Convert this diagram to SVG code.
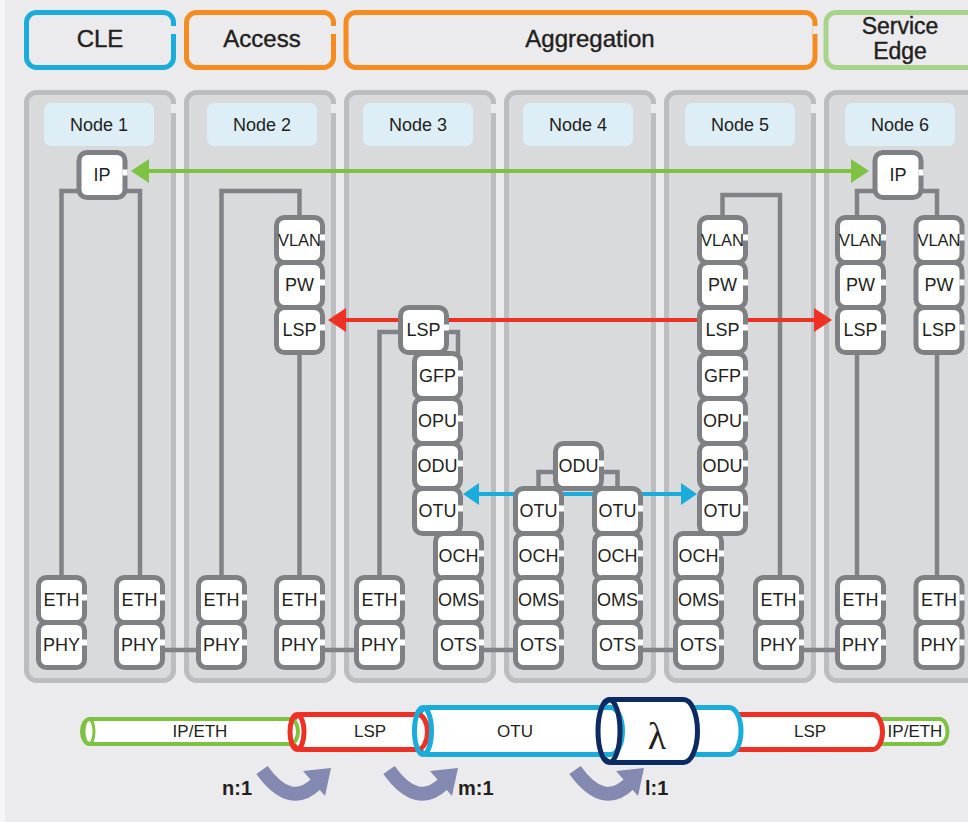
<svg xmlns="http://www.w3.org/2000/svg" xmlns:xlink="http://www.w3.org/1999/xlink" width="968" height="822" viewBox="0 0 968 822">
<style>
.hdr{fill:#ebebed;stroke-width:5}
.htx{font-family:"Liberation Sans",Arial,sans-serif;font-size:24px;fill:#231f20;text-anchor:middle;stroke:#231f20;stroke-width:0.4}
.col{fill:#d9dadc;stroke:#bcbdbf;stroke-width:5}
.nl{fill:#ddeef7}
.ntx{font-family:"Liberation Sans",Arial,sans-serif;font-size:18px;fill:#231f20;text-anchor:middle}
.ln{fill:none;stroke:#808285;stroke-width:4.5}
.bx{fill:#fff;stroke:#7f8083;stroke-width:5}
.ltx{font-family:"Liberation Sans",Arial,sans-serif;font-size:18px;fill:#231f20;text-anchor:middle}
.vl{font-size:16.5px}
.ptx{font-family:"Liberation Sans",Arial,sans-serif;font-size:17px;fill:#231f20;text-anchor:middle}
.rtx{font-family:"Liberation Sans",Arial,sans-serif;font-size:20px;font-weight:bold;fill:#231f20}
.cv{fill:none;stroke:#8389b0;stroke-width:14}
.cvh{fill:#8389b0}
.pw{fill:#fff}
</style>
<defs>
<g id="box"><rect class="bx" x="0" y="0" width="46" height="45" rx="8"/><rect x="43.5" y="17" width="5" height="6" fill="#fff"/></g>
<marker id="ag" markerUnits="userSpaceOnUse" markerWidth="18" markerHeight="24" viewBox="0 0 18 24" refX="0" refY="12" orient="auto-start-reverse"><path d="M0,0L18,12L0,24z" fill="#7dc242"/></marker>
<marker id="ar" markerUnits="userSpaceOnUse" markerWidth="18" markerHeight="24" viewBox="0 0 18 24" refX="0" refY="12" orient="auto-start-reverse"><path d="M0,0L18,12L0,24z" fill="#ee3124"/></marker>
<marker id="ab" markerUnits="userSpaceOnUse" markerWidth="16" markerHeight="22" viewBox="0 0 16 22" refX="0" refY="11" orient="auto-start-reverse"><path d="M0,0L16,11L0,22z" fill="#1aaddb"/></marker>
</defs>
<rect x="0" y="0" width="968" height="822" fill="#f6f6f7"/>
<rect x="5" y="0" width="963" height="822" fill="#ebebed"/>

<g id="headers">
<rect class="hdr" x="26.5" y="12.5" width="147" height="55" rx="10" stroke="#1aaddb"/>
<rect x="171" y="26" width="6" height="8" fill="#ebebed"/>
<text class="htx" x="100" y="47">CLE</text>
<rect class="hdr" x="186.5" y="12.5" width="147" height="55" rx="10" stroke="#f68b1f"/>
<rect x="331" y="26" width="6" height="8" fill="#ebebed"/>
<text class="htx" x="262" y="47">Access</text>
<rect class="hdr" x="346" y="12.5" width="469" height="55" rx="10" stroke="#f68b1f"/>
<rect x="812.5" y="26" width="6" height="8" fill="#ebebed"/>
<text class="htx" x="590" y="47">Aggregation</text>
<rect class="hdr" x="826" y="12.5" width="170" height="55" rx="10" stroke="#a9d38b"/>
<text class="htx" x="900" y="34" style="font-size:23px">Service</text>
<text class="htx" x="900" y="59" style="font-size:23px">Edge</text>
</g>

<g id="columns">
<rect class="col" x="26.5" y="92.5" width="147" height="588" rx="10"/>
<rect x="171" y="104" width="6" height="9" fill="#ebebed"/>
<rect class="col" x="186.5" y="92.5" width="147" height="588" rx="10"/>
<rect x="331" y="104" width="6" height="9" fill="#ebebed"/>
<rect class="col" x="346.5" y="92.5" width="147" height="588" rx="10"/>
<rect x="491" y="104" width="6" height="9" fill="#ebebed"/>
<rect class="col" x="506.5" y="92.5" width="147" height="588" rx="10"/>
<rect x="651" y="104" width="6" height="9" fill="#ebebed"/>
<rect class="col" x="666.5" y="92.5" width="147" height="588" rx="10"/>
<rect x="811" y="104" width="6" height="9" fill="#ebebed"/>
<rect class="col" x="826.5" y="92.5" width="170" height="588" rx="10"/>
<rect class="nl" x="44" y="103" width="110" height="43" rx="7"/>
<rect class="nl" x="207" y="103" width="110" height="43" rx="7"/>
<rect class="nl" x="363" y="103" width="110" height="43" rx="7"/>
<rect class="nl" x="523" y="103" width="110" height="43" rx="7"/>
<rect class="nl" x="685" y="103" width="110" height="43" rx="7"/>
<rect class="nl" x="845" y="103" width="110" height="43" rx="7"/>
<text class="ntx" x="99" y="131">Node 1</text>
<text class="ntx" x="262" y="131">Node 2</text>
<text class="ntx" x="418" y="131">Node 3</text>
<text class="ntx" x="578" y="131">Node 4</text>
<text class="ntx" x="740" y="131">Node 5</text>
<text class="ntx" x="900" y="131">Node 6</text>
</g>

<g id="connectors">
<path class="ln" d="M61.5,577.5V191H80M140,577.5V191H124"/>
<path class="ln" d="M162,650H200"/>
<path class="ln" d="M221.5,577.5V191H299.5V217.5M299.5,352.5V577.5"/>
<path class="ln" d="M320,650H360"/>
<path class="ln" d="M379.5,577.5V332H401M446,332H458V354"/>
<path class="ln" d="M480,650H518"/>
<path class="ln" d="M556,472H538.5V489M601,472H617.5V489"/>
<path class="ln" d="M638,650H678"/>
<path class="ln" d="M722.5,217.5V195H780V577.5"/>
<path class="ln" d="M800,650H840"/>
<path class="ln" d="M876,191H857V217.5M857,352.5V577.5M920,191H937V217.5M937,352.5V577.5"/>
<line x1="149" y1="171" x2="851" y2="171" stroke="#7dc242" stroke-width="4" marker-start="url(#ag)" marker-end="url(#ag)"/>
<line x1="346" y1="320" x2="814" y2="320" stroke="#ee3124" stroke-width="4" marker-start="url(#ar)" marker-end="url(#ar)"/>
<line x1="479" y1="494" x2="681" y2="494" stroke="#1aaddb" stroke-width="4" marker-start="url(#ab)" marker-end="url(#ab)"/>
</g>

<g id="node1">
<use href="#box" x="79" y="152.5"/><text class="ltx" x="102" y="181">IP</text>
<use href="#box" x="38.5" y="577.5"/><text class="ltx" x="61.5" y="606">ETH</text>
<use href="#box" x="38.5" y="622.5"/><text class="ltx" x="61.5" y="651">PHY</text>
<use href="#box" x="116.5" y="577.5"/><text class="ltx" x="139.5" y="606">ETH</text>
<use href="#box" x="116.5" y="622.5"/><text class="ltx" x="139.5" y="651">PHY</text>
</g>
<g id="node2">
<use href="#box" x="198.5" y="577.5"/><text class="ltx" x="221.5" y="606">ETH</text>
<use href="#box" x="198.5" y="622.5"/><text class="ltx" x="221.5" y="651">PHY</text>
<use href="#box" x="276.5" y="217.5"/><text class="ltx vl" x="299.5" y="246">VLAN</text>
<use href="#box" x="276.5" y="262.5"/><text class="ltx" x="299.5" y="291">PW</text>
<use href="#box" x="276.5" y="307.5"/><text class="ltx" x="299.5" y="336">LSP</text>
<use href="#box" x="276.5" y="577.5"/><text class="ltx" x="299.5" y="606">ETH</text>
<use href="#box" x="276.5" y="622.5"/><text class="ltx" x="299.5" y="651">PHY</text>
</g>
<g id="node3">
<use href="#box" x="414.5" y="353.5"/><text class="ltx" x="437.5" y="382">GFP</text>
<use href="#box" x="414.5" y="398.5"/><text class="ltx" x="437.5" y="427">OPU</text>
<use href="#box" x="414.5" y="443.5"/><text class="ltx" x="437.5" y="472">ODU</text>
<use href="#box" x="414.5" y="488.5"/><text class="ltx" x="437.5" y="517">OTU</text>
<use href="#box" x="400.5" y="307.5"/><text class="ltx" x="423.5" y="336">LSP</text>
<use href="#box" x="435.5" y="533.5"/><text class="ltx" x="458.5" y="562">OCH</text>
<use href="#box" x="435.5" y="577.5"/><text class="ltx" x="458.5" y="606">OMS</text>
<use href="#box" x="435.5" y="622.5"/><text class="ltx" x="458.5" y="651">OTS</text>
<use href="#box" x="356.5" y="577.5"/><text class="ltx" x="379.5" y="606">ETH</text>
<use href="#box" x="356.5" y="622.5"/><text class="ltx" x="379.5" y="651">PHY</text>
</g>
<g id="node4">
<use href="#box" x="555.5" y="443.5"/><text class="ltx" x="578.5" y="472">ODU</text>
<use href="#box" x="515.5" y="488.5"/><text class="ltx" x="538.5" y="517">OTU</text>
<use href="#box" x="515.5" y="533.5"/><text class="ltx" x="538.5" y="562">OCH</text>
<use href="#box" x="515.5" y="577.5"/><text class="ltx" x="538.5" y="606">OMS</text>
<use href="#box" x="515.5" y="622.5"/><text class="ltx" x="538.5" y="651">OTS</text>
<use href="#box" x="594.5" y="488.5"/><text class="ltx" x="617.5" y="517">OTU</text>
<use href="#box" x="594.5" y="533.5"/><text class="ltx" x="617.5" y="562">OCH</text>
<use href="#box" x="594.5" y="577.5"/><text class="ltx" x="617.5" y="606">OMS</text>
<use href="#box" x="594.5" y="622.5"/><text class="ltx" x="617.5" y="651">OTS</text>
</g>
<g id="node5">
<use href="#box" x="699.5" y="217.5"/><text class="ltx vl" x="722.5" y="246">VLAN</text>
<use href="#box" x="699.5" y="262.5"/><text class="ltx" x="722.5" y="291">PW</text>
<use href="#box" x="699.5" y="307.5"/><text class="ltx" x="722.5" y="336">LSP</text>
<use href="#box" x="699.5" y="353.5"/><text class="ltx" x="722.5" y="382">GFP</text>
<use href="#box" x="699.5" y="398.5"/><text class="ltx" x="722.5" y="427">OPU</text>
<use href="#box" x="699.5" y="443.5"/><text class="ltx" x="722.5" y="472">ODU</text>
<use href="#box" x="699.5" y="488.5"/><text class="ltx" x="722.5" y="517">OTU</text>
<use href="#box" x="675.5" y="533.5"/><text class="ltx" x="698.5" y="562">OCH</text>
<use href="#box" x="675.5" y="577.5"/><text class="ltx" x="698.5" y="606">OMS</text>
<use href="#box" x="675.5" y="622.5"/><text class="ltx" x="698.5" y="651">OTS</text>
<use href="#box" x="755.5" y="577.5"/><text class="ltx" x="778.5" y="606">ETH</text>
<use href="#box" x="755.5" y="622.5"/><text class="ltx" x="778.5" y="651">PHY</text>
</g>
<g id="node6">
<use href="#box" x="875" y="152.5"/><text class="ltx" x="898" y="181">IP</text>
<use href="#box" x="837.5" y="217.5"/><text class="ltx vl" x="860.5" y="246">VLAN</text>
<use href="#box" x="837.5" y="262.5"/><text class="ltx" x="860.5" y="291">PW</text>
<use href="#box" x="837.5" y="307.5"/><text class="ltx" x="860.5" y="336">LSP</text>
<use href="#box" x="837.5" y="577.5"/><text class="ltx" x="860.5" y="606">ETH</text>
<use href="#box" x="837.5" y="622.5"/><text class="ltx" x="860.5" y="651">PHY</text>
<use href="#box" x="916" y="217.5"/><text class="ltx vl" x="939" y="246">VLAN</text>
<use href="#box" x="916" y="262.5"/><text class="ltx" x="939" y="291">PW</text>
<use href="#box" x="916" y="307.5"/><text class="ltx" x="939" y="336">LSP</text>
<use href="#box" x="916" y="577.5"/><text class="ltx" x="939" y="606">ETH</text>
<use href="#box" x="916" y="622.5"/><text class="ltx" x="939" y="651">PHY</text>
</g>

<g id="pipes">
<rect class="pw" x="870" y="719" width="77.5" height="25" rx="8" ry="12.5" stroke="#7dc242" stroke-width="4"/>
<rect class="pw" x="720" y="714.5" width="162.5" height="35" rx="10" ry="17.5" stroke="#ee3124" stroke-width="5"/>
<rect class="pw" x="680" y="707.5" width="61" height="47" rx="12" ry="23.5" stroke="#1aaddb" stroke-width="5"/>
<rect class="pw" x="597.5" y="699.5" width="100" height="63" rx="14" ry="31.5" stroke="#0c2a63" stroke-width="5"/>
<rect class="pw" x="415.5" y="707.5" width="207" height="47" rx="12" ry="23.5" stroke="#1aaddb" stroke-width="5"/>
<ellipse cx="609" cy="731" rx="11" ry="31.5" fill="none" stroke="#0c2a63" stroke-width="5"/>
<rect class="pw" x="290.5" y="714.5" width="137" height="35" rx="10" ry="17.5" stroke="#ee3124" stroke-width="5"/>
<ellipse cx="423" cy="731" rx="8.5" ry="23.5" fill="none" stroke="#1aaddb" stroke-width="5"/>
<rect class="pw" x="82" y="719" width="216" height="25" rx="8" ry="12.5" stroke="#7dc242" stroke-width="4"/>
<ellipse cx="297" cy="732" rx="7" ry="17.5" fill="none" stroke="#ee3124" stroke-width="5"/>
<ellipse cx="89" cy="731.5" rx="5" ry="12.5" fill="none" stroke="#7dc242" stroke-width="3"/>
<text class="ptx" x="200" y="737">IP/ETH</text>
<text class="ptx" x="370" y="737">LSP</text>
<text class="ptx" x="515" y="737">OTU</text>
<text x="657" y="749" font-family="Liberation Serif,Times New Roman,serif" font-size="38" fill="#231f20" text-anchor="middle">λ</text>
<text class="ptx" x="810" y="737">LSP</text>
<text class="ptx" x="915" y="737">IP/ETH</text>
</g>

<g id="ratios">
<path class="cv" d="M262,770Q290,809 316,784"/>
<polygon class="cvh" points="303,771 325,796 331,768"/>
<path class="cv" d="M389,770Q417,809 443,784"/>
<polygon class="cvh" points="430,771 452,796 458,768"/>
<path class="cv" d="M575,770Q603,809 629,784"/>
<polygon class="cvh" points="616,771 638,796 644,768"/>
<text class="rtx" x="222" y="795">n:1</text>
<text class="rtx" x="458" y="795">m:1</text>
<text class="rtx" x="645" y="795">l:1</text>
</g>
</svg>
